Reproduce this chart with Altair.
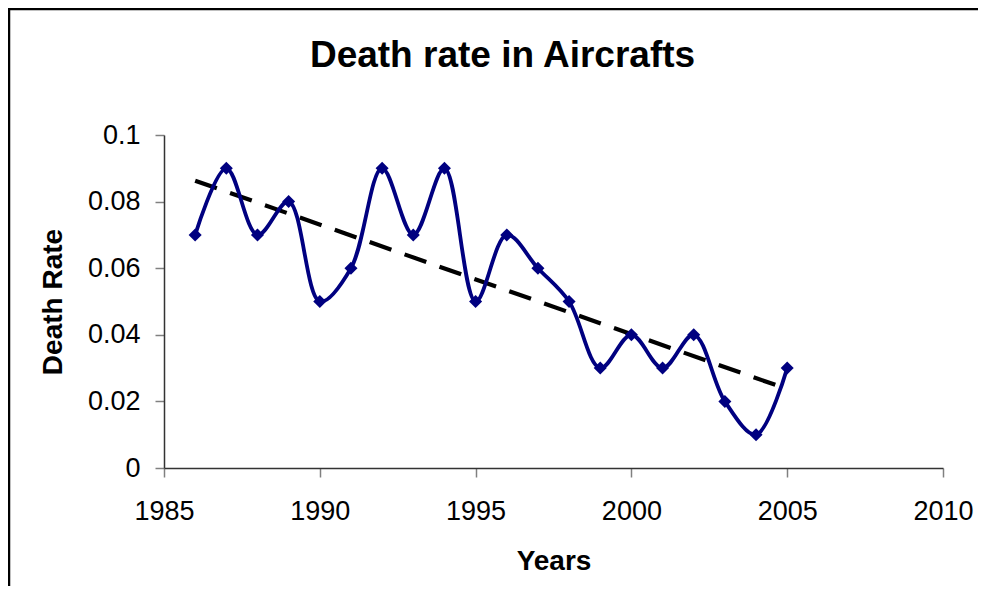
import altair as alt
import pandas as pd

years = [1986, 1987, 1988, 1989, 1990, 1991, 1992, 1993, 1994, 1995,
         1996, 1997, 1998, 1999, 2000, 2001, 2002, 2003, 2004, 2005]
death_rate = [0.07, 0.09, 0.07, 0.08, 0.05, 0.06, 0.09, 0.07, 0.09, 0.05,
              0.07, 0.06, 0.05, 0.03, 0.04, 0.03, 0.04, 0.02, 0.01, 0.03]
x_ticks = [1985, 1990, 1995, 2000, 2005, 2010]
y_ticks = [0, 0.02, 0.04, 0.06, 0.08, 0.1]
title_text = "Death rate in Aircrafts"

df = pd.DataFrame({"Year": years, "Rate": death_rate})

W, H = 779, 333
FONT = "Liberation Sans"

x_enc = alt.X("Year:Q",
              scale=alt.Scale(domain=[1985, 2010], nice=False, zero=False),
              axis=alt.Axis(values=x_ticks, format="d", title="Years",
                            grid=False, tickSize=9, labelPadding=42,
                            labelBaseline="alphabetic", labelFlush=False,
                            titleX=W / 2, titleY=101, titleBaseline="alphabetic",
                            titleAlign="center"))
y_enc = alt.Y("Rate:Q",
              scale=alt.Scale(domain=[0, 0.1], nice=False),
              axis=alt.Axis(values=y_ticks, format="~g", title="Death Rate",
                            grid=False, tickSize=9, labelPadding=15,
                            labelFlush=False,
                            titleX=-111, titleY=H / 2, titleBaseline="middle",
                            titleAlign="center", titleAngle=270))

base = alt.Chart(df)

line = base.mark_line(interpolate="catmull-rom", color="#000080",
                      strokeWidth=3.8).encode(x=x_enc, y=y_enc)
points = base.mark_point(shape="diamond", filled=True, color="#000080",
                         size=170, opacity=1).encode(x="Year:Q", y="Rate:Q")
trend = base.transform_regression("Year", "Rate").mark_line(
    color="black", strokeWidth=4.2, strokeDash=[23, 14]
).encode(x="Year:Q", y="Rate:Q")

title = alt.Chart(alt.Data(values=[{}])).mark_text(
    fontSize=37, fontWeight="bold", font=FONT, color="black",
    align="center", baseline="alphabetic"
).encode(x=alt.value(W / 2 - 51), y=alt.value(-68), text=alt.value(title_text))

one = alt.Data(values=[{}])
border_top = alt.Chart(one).mark_rule(color="black", strokeWidth=2.5).encode(
    x=alt.value(-156), x2=alt.value(W + 40), y=alt.value(-126))
border_left = alt.Chart(one).mark_rule(color="black", strokeWidth=2.5).encode(
    x=alt.value(-155), y=alt.value(-127), y2=alt.value(H + 118))

chart = alt.layer(border_top, border_left, trend, line, points, title).properties(
    width=W, height=H,
    autosize=alt.AutoSizeParams(type="none"),
    padding={"left": 156, "top": 127, "right": 35, "bottom": 118},
).configure_view(stroke=None).configure_axis(
    labelFont=FONT, labelFontSize=27, labelColor="black",
    titleFont=FONT, titleFontSize=28, titleFontWeight="bold", titleColor="black",
    domainColor="#333333", domainWidth=1.5, tickColor="#808080", tickWidth=1.5,
)

chart.save("out.html", embed_options={"renderer": "svg", "actions": False})
